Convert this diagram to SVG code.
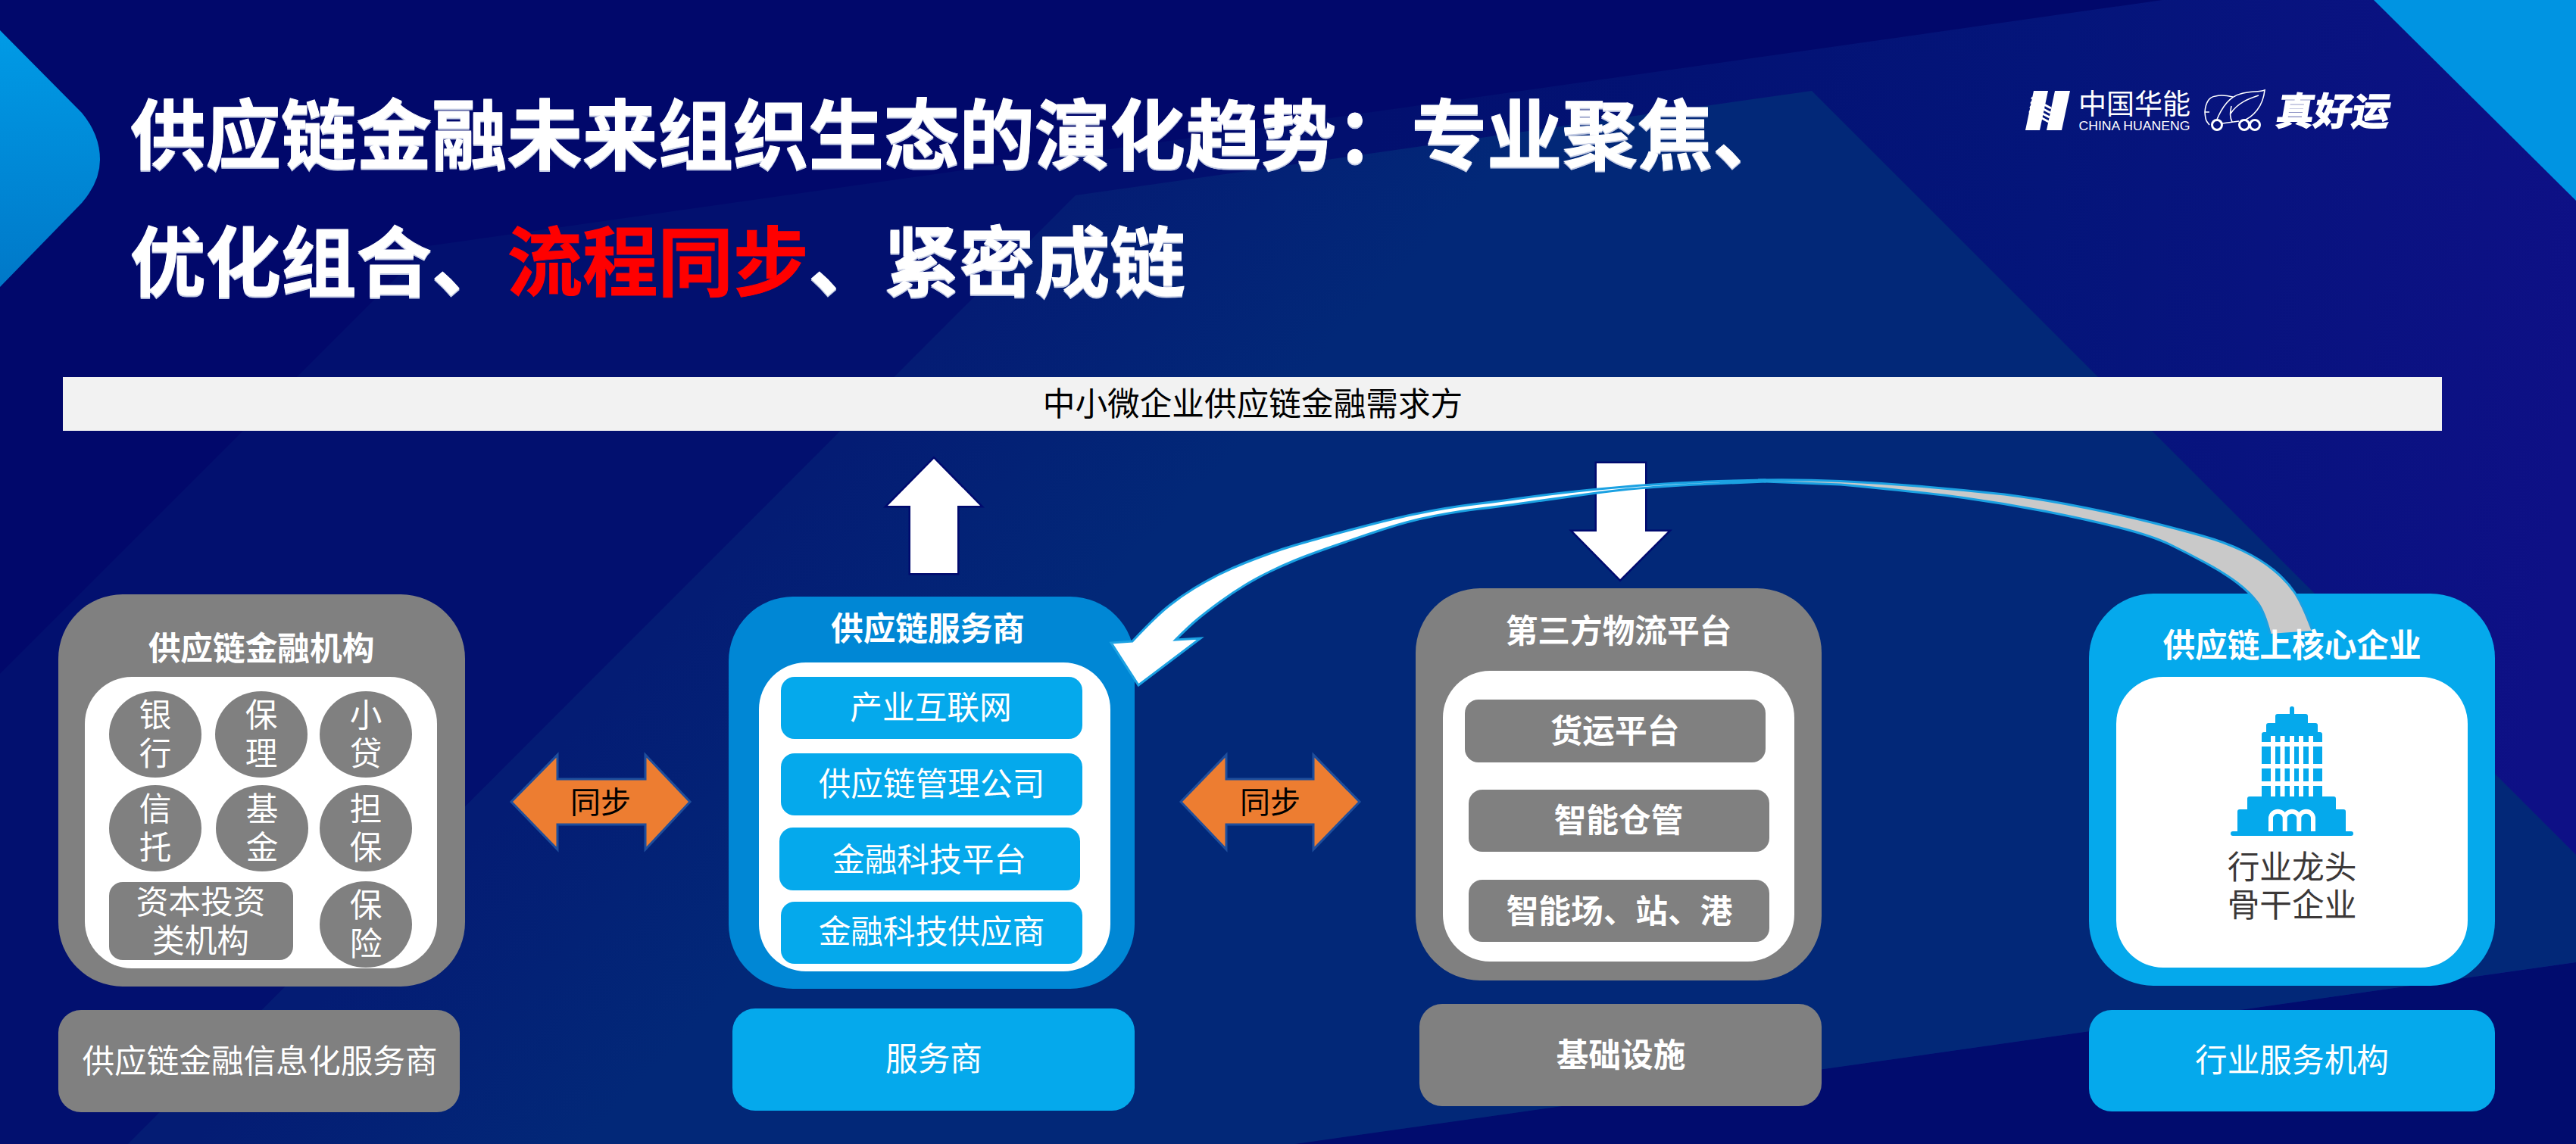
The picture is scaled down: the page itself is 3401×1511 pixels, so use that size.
<svg xmlns="http://www.w3.org/2000/svg" width="3401" height="1511" viewBox="0 0 3401 1511">
<defs>
<linearGradient id="bg2" gradientUnits="userSpaceOnUse" x1="1800" y1="300" x2="3401" y2="500"><stop offset="0" stop-color="#02106f"/><stop offset="0.55" stop-color="#04157a"/><stop offset="1" stop-color="#0e1086"/></linearGradient>
<linearGradient id="bg3" gradientUnits="userSpaceOnUse" x1="1420" y1="258" x2="1700" y2="520"><stop offset="0" stop-color="#041c74"/><stop offset="1" stop-color="#022878"/></linearGradient>
<linearGradient id="corner" x1="0" y1="0" x2="0" y2="1"><stop offset="0" stop-color="#009be6"/><stop offset="1" stop-color="#0078c8"/></linearGradient>
<filter id="ts" x="-2%" y="-5%" width="104%" height="115%"><feDropShadow dx="0" dy="2" stdDeviation="0" flood-color="#c4cce4"/></filter>
<style>
text{font-family:"Noto Sans CJK SC","Noto Sans",sans-serif;text-anchor:middle}
.w{fill:#fff;font-size:42.67px}
.b{font-weight:700}
.title{font-size:99.5px;font-weight:700;fill:#fff;text-anchor:start;stroke:#fff;stroke-width:1px;filter:url(#ts)}
.red{font-size:99.5px;font-weight:700;fill:#ff0000;text-anchor:start;stroke:#ff0000;stroke-width:1px}
.gray{fill:#808080}
.blue{fill:#05a9ec}
.white{fill:#fff}
.sync{fill:#ed7d31;stroke:#1f4e9c;stroke-width:3}
.bigarrow{fill:#fff;stroke:#000a6e;stroke-width:5;paint-order:stroke}
.rib{stroke:#1ba1e2;stroke-width:3;stroke-linejoin:miter}
</style>
</defs>
<g id="background">
<rect width="3401" height="1511" fill="#01086b"/>
<polygon points="2855,0 3401,0 3401,1511 0,1511 0,890 565,325" fill="url(#bg2)"/>
<polygon points="3401,1271 3401,1511 1710,1511" fill="#010c6e"/>
<polygon points="1420,258 2392,120 3401,1129 3401,1271 1710,1511 169,1511" fill="url(#bg3)"/>
<path d="M0,40 L108,149 Q132,178 132,211 Q132,240 108,268 L0,379 Z" fill="url(#corner)"/>
<polygon points="3134,0 3401,0 3401,265" fill="#0094e2"/>
</g>
<g id="title">
<text class="title" x="172" y="215">供应链金融未来组织生态的演化趋势：专业聚焦、</text>
<text class="title" x="172" y="383">优化组合、</text>
<text class="red" x="669.5" y="383">流程同步</text>
<text class="title" x="1067.5" y="383">、紧密成链</text>
</g>
<g id="logo">
<polygon points="2685,120 2704,120 2693,172 2674,172" fill="#fff"/>
<polygon points="2713,120 2733,120 2722,172 2702,172" fill="#fff"/>
<path d="M2682,129L2708,143M2681,135L2707,149M2680,141L2706,155M2679,147L2705,161" stroke="#fff" stroke-width="3" fill="none"/>
<text x="2818" y="151" fill="#fff" font-size="37">中国华能</text>
<text x="2818" y="172" fill="#fff" font-size="17" textLength="147" lengthAdjust="spacingAndGlyphs" style="font-family:'Liberation Sans',sans-serif">CHINA HUANENG</text>
<g fill="none" stroke="#fff" stroke-width="1.6">
<path d="M2917,165 C2914,160 2912,162 2911,148 C2912,135 2916,128 2925,127 C2932,125 2940,126 2948,128 M2911,148 H2917 M2926,160 C2932,145 2942,128 2958,124 C2970,120 2982,122 2990,119 C2988,140 2975,155 2960,160 M2945,150 C2955,135 2970,130 2982,126 M2934,163 L2956,160 M2946,140 C2944,150 2944,155 2947,161"/>
<circle cx="2927" cy="165" r="6.5" stroke-width="3"/>
<circle cx="2963" cy="165" r="6.5" stroke-width="3"/>
<circle cx="2977" cy="165" r="6.5" stroke-width="3"/>
</g>
<text transform="translate(3078,165) skewX(-10)" x="0" y="0" fill="#fff" stroke="#fff" stroke-width="1.5" font-size="50" font-weight="700">真好运</text>
</g>
<g id="demand">
<rect x="83" y="498" width="3141" height="71" fill="#f2f2f2"/>
<text x="1654" y="549" font-size="42.67" fill="#000">中小微企业供应链金融需求方</text>
</g>
<g id="node-finance">
<rect class="gray" x="77" y="785" width="537" height="518" rx="85"/>
<text class="w b" x="345" y="872">供应链金融机构</text>
<rect class="white" x="112" y="894" width="465" height="385" rx="62"/>
<ellipse class="gray" cx="205" cy="970" rx="61" ry="57"/>
<ellipse class="gray" cx="345" cy="970" rx="61" ry="57"/>
<ellipse class="gray" cx="483" cy="970" rx="61" ry="57"/>
<ellipse class="gray" cx="205" cy="1094" rx="61" ry="57"/>
<ellipse class="gray" cx="346" cy="1094" rx="61" ry="57"/>
<ellipse class="gray" cx="483" cy="1094" rx="61" ry="57"/>
<ellipse class="gray" cx="483" cy="1221" rx="61" ry="57"/>
<rect class="gray" x="144" y="1165" width="243" height="103" rx="18"/>
<text class="w" x="205" y="960">银</text><text class="w" x="205" y="1011">行</text>
<text class="w" x="345" y="960">保</text><text class="w" x="345" y="1011">理</text>
<text class="w" x="483" y="960">小</text><text class="w" x="483" y="1011">贷</text>
<text class="w" x="205" y="1084">信</text><text class="w" x="205" y="1135">托</text>
<text class="w" x="346" y="1084">基</text><text class="w" x="346" y="1135">金</text>
<text class="w" x="483" y="1084">担</text><text class="w" x="483" y="1135">保</text>
<text class="w" x="483" y="1211">保</text><text class="w" x="483" y="1262">险</text>
<text class="w" x="265" y="1207">资本投资</text><text class="w" x="265" y="1258">类机构</text>
</g>
<g id="node-finance-info">
<rect class="gray" x="77" y="1334" width="530" height="135" rx="30"/>
<text class="w" x="343" y="1417">供应链金融信息化服务商</text>
</g>
<g id="node-service">
<rect x="962" y="788" width="536" height="518" rx="85" fill="#0087d5"/>
<text class="w b" x="1225" y="846">供应链服务商</text>
<rect class="white" x="1002" y="875" width="464" height="408" rx="62"/>
<rect class="blue" x="1031" y="894" width="398" height="82" rx="18"/>
<rect class="blue" x="1031" y="995" width="398" height="82" rx="18"/>
<rect class="blue" x="1029" y="1093" width="397" height="83" rx="18"/>
<rect class="blue" x="1031" y="1191" width="398" height="82" rx="18"/>
<text class="w" x="1229" y="950">产业互联网</text>
<text class="w" x="1230" y="1051">供应链管理公司</text>
<text class="w" x="1227" y="1151">金融科技平台</text>
<text class="w" x="1230" y="1246">金融科技供应商</text>
</g>
<g id="node-service-base">
<rect class="blue" x="967" y="1332" width="531" height="135" rx="30"/>
<text class="w" x="1233" y="1414">服务商</text>
</g>
<g id="node-logistics">
<rect class="gray" x="1869" y="777" width="536" height="518" rx="85"/>
<text class="w b" x="2137" y="849">第三方物流平台</text>
<rect class="white" x="1905" y="886" width="464" height="384" rx="62"/>
<rect class="gray" x="1934" y="924" width="397" height="83" rx="18"/>
<rect class="gray" x="1939" y="1043" width="397" height="82" rx="18"/>
<rect class="gray" x="1939" y="1162" width="397" height="82" rx="18"/>
<text class="w b" x="2132" y="981">货运平台</text>
<text class="w b" x="2137" y="1099">智能仓管</text>
<text class="w b" x="2138" y="1219">智能场、站、港</text>
</g>
<g id="node-infra">
<rect class="gray" x="1874" y="1326" width="531" height="135" rx="30"/>
<text class="w b" x="2140" y="1409">基础设施</text>
</g>
<g id="node-core">
<rect class="blue" x="2758" y="784" width="536" height="518" rx="85"/>
<rect class="white" x="2794" y="894" width="464" height="384" rx="62"/>
<g id="building">
<path class="blue" d="M3023,936a3,3 0 0 1 6,0V943H3044a3,3 0 0 1 3,3V955H3057a3,3 0 0 1 3,3V967H3063a3,3 0 0 1 3,3V1052H3081a3,3 0 0 1 3,3V1069H3094a3,3 0 0 1 3,3V1098H3104a3,3 0 0 1 0,6H2948a3,3 0 0 1 0,-6H2954V1072a3,3 0 0 1 3,-3H2967V1055a3,3 0 0 1 3,-3H2986V970a3,3 0 0 1 3,-3H2992V958a3,3 0 0 1 3,-3H3004V946a3,3 0 0 1 3,-3H3023Z"/>
<g fill="#fff">
<rect x="2986" y="980" width="80" height="6"/><rect x="2986" y="1009" width="80" height="6"/><rect x="2986" y="1032" width="80" height="6"/>
<rect x="2998" y="972" width="6" height="80"/><rect x="3010.5" y="972" width="6" height="80"/><rect x="3023" y="972" width="6" height="80"/><rect x="3035" y="972" width="6" height="80"/><rect x="3048" y="972" width="6" height="80"/>
</g>
<path d="M2998,1098V1081a9.3,9.3 0 0 1 18.7,0V1098M3016.7,1081a9.3,9.3 0 0 1 18.6,0V1098M3035.3,1081a9.3,9.3 0 0 1 18.7,0V1098" fill="none" stroke="#fff" stroke-width="6"/>
</g>
<text x="3026" y="1161" font-size="42.67" fill="#3b3838">行业龙头</text>
<text x="3026" y="1211" font-size="42.67" fill="#3b3838">骨干企业</text>
</g>
<g id="node-industry">
<rect class="blue" x="2758" y="1334" width="536" height="134" rx="30"/>
<text class="w" x="3026" y="1416">行业服务机构</text>
</g>
<g id="connectors">
<path class="bigarrow" d="M1233,606 L1294,668 H1264 V757 H1202 V668 H1172 Z"/>
<path class="bigarrow" d="M2108,612 H2172 V702 H2202 L2139,765 L2077,702 H2108 Z"/>
<path class="sync" d="M675,1059 L736,997 V1029 H852 V997 L911,1059 L852,1122 V1089 H736 V1122 Z"/>
<path class="sync" d="M1559,1059 L1619,997 V1029 H1734 V997 L1795,1059 L1734,1122 V1089 H1619 V1122 Z"/>
<text x="793" y="1074" font-size="40" fill="#000">同步</text>
<text x="1677" y="1074" font-size="40" fill="#000">同步</text>
<path class="rib" fill="#fff" d="M2330,634 Q2267,635 2213,638 Q2159,641 2104.5,646.5 Q2050,652 2015,657 Q1980,662 1953.5,665 Q1927,668 1893.5,674 Q1860,680 1826.5,688.5 Q1793,697 1760,706 Q1727,715 1710,720 Q1693,725 1676.5,731 Q1660,737 1643.5,743.5 Q1627,750 1610,758.5 Q1593,767 1576.5,777 Q1560,787 1543.5,800 Q1527,813 1495,847 L1467,849 L1503,905 L1585,843 L1552,845 Q1570,827 1581.5,817.5 Q1593,808 1610,795.5 Q1627,783 1643.5,773 Q1660,763 1676.5,755 Q1693,747 1710,740 Q1727,733 1760,721.5 Q1793,710 1826.5,699 Q1860,688 1893.5,681.5 Q1927,675 1953.5,672 Q1980,669 2015,664 Q2050,659 2104.5,651.5 Q2159,644 2240,640 L2330,636 Z"/>
<path class="rib" fill="#c9c9c9" d="M3053,833 Q3040,798 3029.5,782.5 Q3019,767 3002,753 Q2985,739 2961,727.5 Q2937,716 2908.5,708 Q2880,700 2844.5,691 Q2809,682 2755,671 Q2701,660 2646.5,653 Q2592,647 2538,642.5 Q2484,638 2430,635.5 Q2376,633 2321,634 L2330,636 L2430,640 Q2538,650 2592.5,657.5 Q2647,665 2701,675.5 Q2755,686 2798.5,697 Q2842,708 2865.5,719.5 Q2889,731 2913,744 Q2937,757 2954,770 Q2971,783 2980.5,796 Q2990,809 2997,837"/>
</g>
<g id="node-core-title">
<text class="w b" x="3026" y="868">供应链上核心企业</text>
</g>
</svg>
